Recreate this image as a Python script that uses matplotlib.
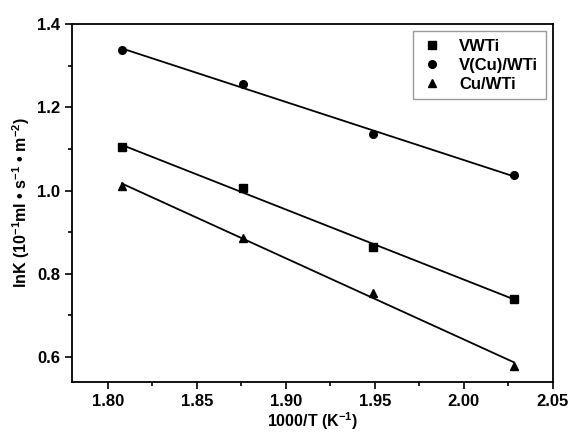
import numpy as np
import matplotlib
matplotlib.use("Agg")
import matplotlib.pyplot as plt
from matplotlib.ticker import MultipleLocator

plt.rcParams['font.family'] = ['Liberation Sans', 'DejaVu Sans']
plt.rcParams['font.weight'] = 'bold'
plt.rcParams['mathtext.fontset'] = 'custom'
plt.rcParams['mathtext.bf'] = 'Liberation Sans:bold'
plt.rcParams['mathtext.rm'] = 'Liberation Sans:bold'
plt.rcParams['mathtext.default'] = 'bf'

x = [1.808, 1.876, 1.949, 2.028]
vwti = [1.105, 1.005, 0.865, 0.740]
vcuwti = [1.338, 1.256, 1.135, 1.037]
cuwti = [1.010, 0.887, 0.755, 0.578]
labels = ['VWTi', 'V(Cu)/WTi', 'Cu/WTi']
markers = ['s', 'o', '^']

fig = plt.figure(figsize=(5.7, 4.34), dpi=100)
ax = fig.add_axes([72/570, 1-382/434, (553-72)/570, (382-24)/434])

xa = np.array(x)
for ys, lab, m in zip([vwti, vcuwti, cuwti], labels, markers):
    ax.plot(x, ys, linestyle='none', marker=m, color='black', markersize=5.5, label=lab)
    k, b = np.polyfit(xa, np.array(ys), 1)
    ax.plot(xa[[0, -1]], k*xa[[0, -1]]+b, color='black', lw=1.3)

ax.set_xlim(1.78, 2.05)
ax.set_ylim(0.54, 1.4)
ax.xaxis.set_major_locator(MultipleLocator(0.05))
ax.xaxis.set_minor_locator(MultipleLocator(0.025))
ax.yaxis.set_major_locator(MultipleLocator(0.2))
ax.yaxis.set_minor_locator(MultipleLocator(0.1))
ax.xaxis.set_major_formatter(matplotlib.ticker.FormatStrFormatter('%.2f'))
ax.yaxis.set_major_formatter(matplotlib.ticker.FormatStrFormatter('%.1f'))
ax.tick_params(which='major', direction='out', length=5, width=1.2, labelsize=12)
ax.tick_params(which='minor', direction='out', length=3, width=1.2)
for s in ax.spines.values():
    s.set_linewidth(1.3)

ax.set_xlabel('1000/T (K$^{-1}$)', fontsize=11.5, fontweight='bold', labelpad=1)
ax.set_ylabel('lnK (10$^{-1}$ml \u2022 s$^{-1}$ \u2022 m$^{-2}$)', fontsize=11.5, fontweight='bold')

leg = ax.legend(loc='upper right', frameon=True, fancybox=False, edgecolor='gray',
                fontsize=12, handletextpad=1.0, borderpad=0.45, labelspacing=0.25,
                bbox_to_anchor=(0.985, 0.98), handlelength=1.3, borderaxespad=0)
leg.get_frame().set_linewidth(1.0)

fig.savefig('out.png', dpi=100)
